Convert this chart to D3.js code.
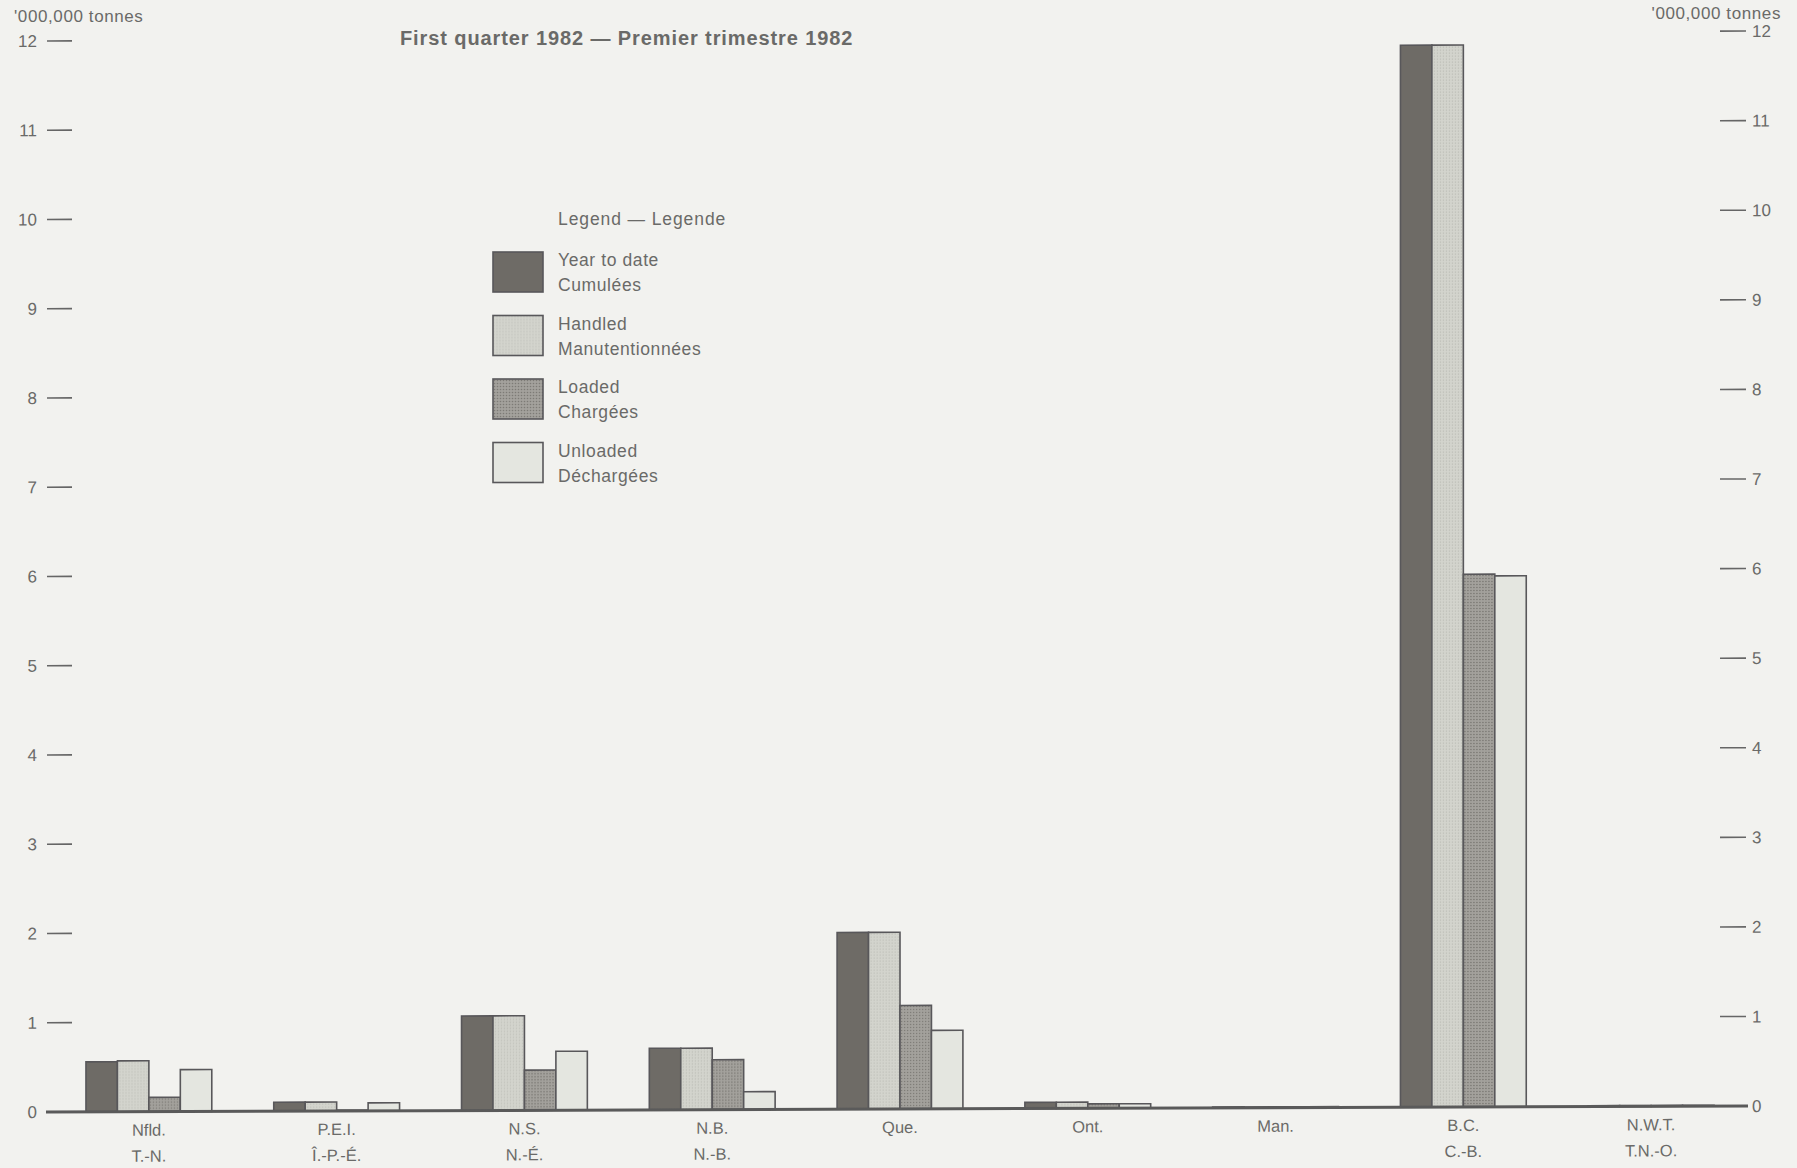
<!DOCTYPE html>
<html>
<head>
<meta charset="utf-8">
<script src="https://cdn.jsdelivr.net/npm/d3@7"></script>
<style>
  html, body { margin: 0; padding: 0; background: #f2f2ef; }
  svg { display: block; }
  text { font-family: "Liberation Sans", Arial, sans-serif; fill: #6a6a68; }
</style>
</head>
<body>
<div id="chartArea"></div>
<script>
// provinces, english / french
const categories = ['Nfld.', 'P.E.I.', 'N.S.', 'N.B.', 'Que.', 'Ont.', 'Man.', 'B.C.', 'N.W.T.']
const categoriesFr = ['T.-N.', 'Î.-P.-É.', 'N.-É.', 'N.-B.', '', '', '', 'C.-B.', 'T.N.-O.']

// '000,000 tonnes
const yearToDate = [0.56, 0.10, 1.06, 0.69, 1.98, 0.07, 0.01, 11.9, 0.01]
const handled = [0.57, 0.10, 1.06, 0.69, 1.98, 0.07, 0.01, 11.9, 0.01]
const loaded = [0.16, 0.01, 0.45, 0.56, 1.16, 0.05, 0.01, 5.97, 0.01]
const unloaded = [0.47, 0.09, 0.66, 0.20, 0.88, 0.05, 0.01, 5.95, 0.01]

const seriesKeys = ['ytd', 'handled', 'loaded', 'unloaded']
const seriesEn = ['Year to date', 'Handled', 'Loaded', 'Unloaded']
const seriesFr = ['Cumulées', 'Manutentionnées', 'Chargées', 'Déchargées']
const yTicks = [0, 1, 2, 3, 4, 5, 6, 7, 8, 9, 10, 11, 12]

const width = 1797
const height = 1168

const svg = d3.select('#chartArea')
  .append('svg')
  .attr('width', width)
  .attr('height', height)

svg.append('rect').attr('width', width).attr('height', height).attr('fill', '#f2f2ef')

// patterns for the stippled bars
const defs = svg.append('defs')
const pat1 = defs.append('pattern')
  .attr('id', 'patHandled').attr('width', 3).attr('height', 3)
  .attr('patternUnits', 'userSpaceOnUse')
pat1.append('rect').attr('width', 3).attr('height', 3).attr('fill', '#d3d4cd')
pat1.append('circle').attr('cx', 1).attr('cy', 1).attr('r', 0.6).attr('fill', '#b2b2ac')

const pat2 = defs.append('pattern')
  .attr('id', 'patLoaded').attr('width', 3).attr('height', 3)
  .attr('patternUnits', 'userSpaceOnUse')
pat2.append('rect').attr('width', 3).attr('height', 3).attr('fill', '#a3a19c')
pat2.append('circle').attr('cx', 1.5).attr('cy', 1.5).attr('r', 0.8).attr('fill', '#7d7b76')

const fills = {
  ytd: '#6e6b66',
  handled: 'url(#patHandled)',
  loaded: 'url(#patLoaded)',
  unloaded: '#e4e6e0'
}

const data = categories.map((c, i) => ({
  name: c,
  fr: categoriesFr[i],
  ytd: yearToDate[i],
  handled: handled[i],
  loaded: loaded[i],
  unloaded: unloaded[i]
}))

const y0 = 1112
const yScale = d3.scaleLinear().domain([0, 12]).range([y0, 41])
const yRight = d3.scaleLinear().domain([0, 12]).range([y0, 37])

const xScale = d3.scaleBand()
  .domain(categories)
  .range([24, 1776])
  .paddingInner(0.33)
  .paddingOuter(0.33)

const xSub = d3.scaleBand()
  .domain(seriesKeys)
  .range([0, xScale.bandwidth()])

// the scanned page is a little skewed
const plotG = svg.append('g')
  .attr('transform', 'translate(46,0) skewY(-0.2) translate(-46,0)')

//
// left axis
//
const leftAx = plotG.append('g')
leftAx.selectAll('line')
  .data(yTicks)
  .join('line')
  .attr('x1', 47).attr('x2', 72)
  .attr('y1', d => yScale(d)).attr('y2', d => yScale(d))
  .attr('stroke', '#666').attr('stroke-width', 1.6)
leftAx.selectAll('text')
  .data(yTicks)
  .join('text')
  .attr('x', 37)
  .attr('y', d => yScale(d))
  .attr('dy', '0.35em')
  .attr('text-anchor', 'end')
  .attr('font-size', 17)
  .text(d => d)

//
// right axis
//
const rightAx = plotG.append('g')
rightAx.selectAll('line')
  .data(yTicks)
  .join('line')
  .attr('x1', 1720).attr('x2', 1746)
  .attr('y1', d => yRight(d)).attr('y2', d => yRight(d))
  .attr('stroke', '#666').attr('stroke-width', 1.6)
rightAx.selectAll('text')
  .data(yTicks)
  .join('text')
  .attr('x', 1752)
  .attr('y', d => yRight(d))
  .attr('dy', '0.35em')
  .attr('text-anchor', 'start')
  .attr('font-size', 17)
  .text(d => d)

//
// bars
//
const groups = plotG.selectAll('g.cat')
  .data(data)
  .join('g')
  .attr('class', 'cat')
  .attr('transform', d => `translate(${xScale(d.name)},0)`)

groups.selectAll('rect')
  .data(d => seriesKeys.map(k => ({ key: k, value: d[k] })))
  .join('rect')
  .attr('x', d => xSub(d.key))
  .attr('y', d => yScale(d.value))
  .attr('width', xSub.bandwidth())
  .attr('height', d => y0 - yScale(d.value))
  .attr('fill', d => fills[d.key])
  .attr('stroke', '#58575a')
  .attr('stroke-width', 1.6)

//
// x axis line
//
plotG.append('line')
  .attr('x1', 46).attr('x2', 1748)
  .attr('y1', y0).attr('y2', y0)
  .attr('stroke', '#5a5a5a')
  .attr('stroke-width', 3)

//
// category labels
//
const labG = plotG.append('g')
labG.selectAll('text.en')
  .data(data)
  .join('text')
  .attr('class', 'en')
  .attr('x', d => xScale(d.name) + xScale.bandwidth() / 2)
  .attr('y', 1136)
  .attr('text-anchor', 'middle')
  .attr('font-size', 16.5)
  .text(d => d.name)
labG.selectAll('text.fr')
  .data(data.filter(d => d.fr))
  .join('text')
  .attr('class', 'fr')
  .attr('x', d => xScale(d.name) + xScale.bandwidth() / 2)
  .attr('y', 1162)
  .attr('text-anchor', 'middle')
  .attr('font-size', 16.5)
  .text(d => d.fr)

//
// unit labels and title
//
svg.append('text')
  .attr('x', 14).attr('y', 22)
  .attr('font-size', 17)
  .attr('letter-spacing', 0.6)
  .text("'000,000 tonnes")

svg.append('text')
  .attr('x', 1781).attr('y', 19)
  .attr('text-anchor', 'end')
  .attr('font-size', 17)
  .attr('letter-spacing', 0.6)
  .text("'000,000 tonnes")

svg.append('text')
  .attr('x', 400).attr('y', 45)
  .attr('font-size', 20)
  .attr('font-weight', 'bold')
  .attr('letter-spacing', 0.9)
  .text('First quarter 1982 — Premier trimestre 1982')

//
// legend
//
const legG = svg.append('g').attr('transform', 'translate(493,0)')
legG.append('text')
  .attr('x', 65).attr('y', 225)
  .attr('font-size', 17.5)
  .attr('letter-spacing', 0.9)
  .text('Legend — Legende')

const legItems = legG.selectAll('g')
  .data(seriesKeys)
  .join('g')
  .attr('transform', (d, i) => `translate(0,${252 + i * 63.5})`)

legItems.append('rect')
  .attr('width', 50).attr('height', 40)
  .attr('fill', d => fills[d])
  .attr('stroke', '#58575a')
  .attr('stroke-width', 1.6)

legItems.append('text')
  .attr('x', 65).attr('y', 14)
  .attr('font-size', 17.5)
  .attr('letter-spacing', 0.6)
  .text((d, i) => seriesEn[i])

legItems.append('text')
  .attr('x', 65).attr('y', 39)
  .attr('font-size', 17.5)
  .attr('letter-spacing', 0.6)
  .text((d, i) => seriesFr[i])
</script>
</body>
</html>
